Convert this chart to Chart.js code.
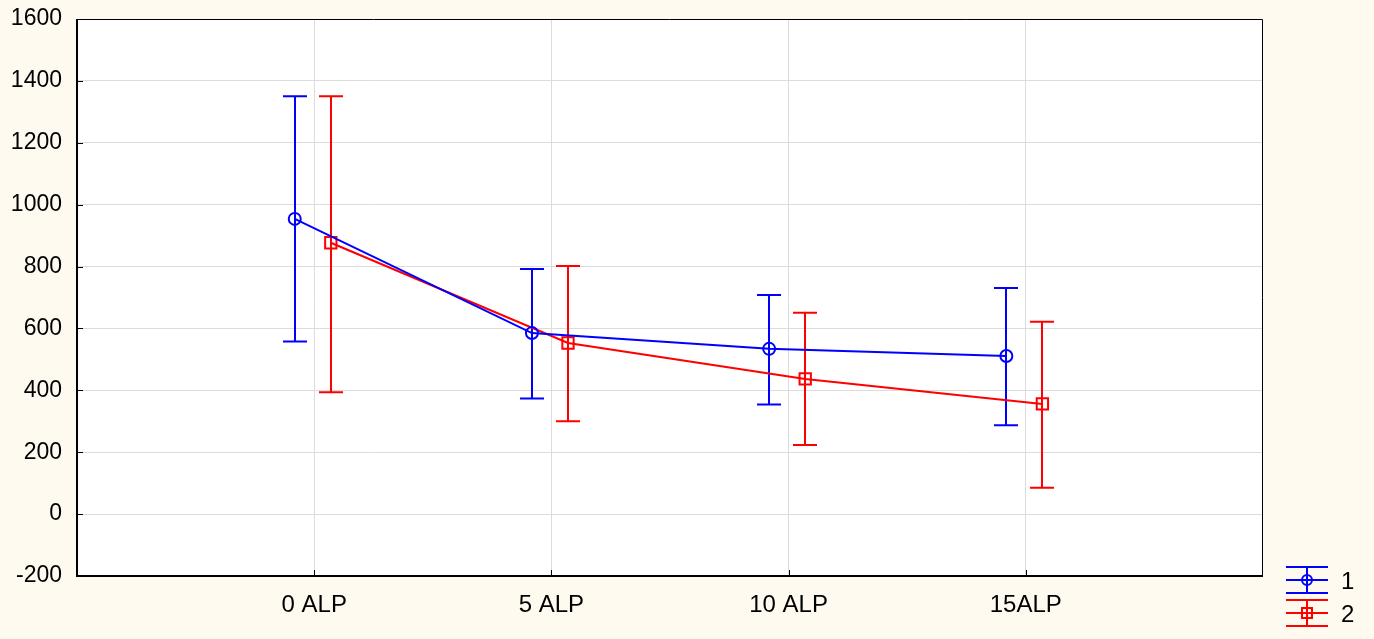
<!DOCTYPE html>
<html>
<head>
<meta charset="utf-8">
<script src="https://cdn.jsdelivr.net/npm/chart.js@4.4.1/dist/chart.umd.min.js"></script>
<style>
    html, body { margin: 0; padding: 0; background: #fffaf0; }
    #wrap { width: 1374px; height: 639px; }
</style>
</head>
<body>
<div id="wrap"><canvas id="alpChart"></canvas></div>
<script>
// Groups along the x axis
const categories = ['0 ALP', '5 ALP', '10 ALP', '15ALP'];
const seriesNames = ['1', '2'];

// Series 1: means with whisker ends
const means1 = [954, 585, 534, 511];
const upper1 = [1350, 792, 708, 731];
const lower1 = [558, 374, 354, 287];

// Series 2: means with whisker ends
const means2 = [877, 553, 437, 356];
const upper2 = [1350, 802, 651, 622];
const lower2 = [394, 300, 223, 85];

const yTicks = [-200, 0, 200, 400, 600, 800, 1000, 1200, 1400, 1600];

const FAMILY = "'Liberation Sans', Arial, sans-serif";
const BLUE = '#0000ff';
const RED = '#ff0000';

// each group sits at x = 1..n, series are nudged left / right of it
function points(values, shift) {
    return values.map((v, i) => ({ x: i + 1 + shift, y: v }));
}

const plotDecor = {
    id: 'plotDecor',
    beforeDraw(chart) {
        const { ctx, chartArea: a } = chart;
        ctx.save();
        ctx.fillStyle = '#fffaf0';
        ctx.fillRect(0, 0, chart.width, chart.height);
        ctx.fillStyle = '#ffffff';
        ctx.fillRect(a.left, a.top, a.right - a.left, a.bottom - a.top);
        ctx.restore();
    },
    beforeDatasetsDraw(chart) {
        const { ctx } = chart;
        const xs = chart.scales.x, ys = chart.scales.y;
        ctx.save();
        ctx.lineWidth = 2;
        chart.data.datasets.forEach(ds => {
            ctx.strokeStyle = ds.borderColor;
            ds.data.forEach((p, i) => {
                const px = Math.round(xs.getPixelForValue(p.x));
                const top = ys.getPixelForValue(ds.upper[i]);
                const bot = ys.getPixelForValue(ds.lower[i]);
                ctx.beginPath();
                ctx.moveTo(px, top);
                ctx.lineTo(px, bot);
                ctx.moveTo(px - 12, top);
                ctx.lineTo(px + 12, top);
                ctx.moveTo(px - 12, bot);
                ctx.lineTo(px + 12, bot);
                ctx.stroke();
            });
        });
        ctx.restore();
    },
    afterDraw(chart) {
        const { ctx, chartArea: a } = chart;
        const xs = chart.scales.x, ys = chart.scales.y;
        ctx.save();
        // frame
        ctx.strokeStyle = '#000';
        ctx.lineWidth = 1;
        ctx.beginPath();
        ctx.moveTo(a.left, a.top + 0.5);
        ctx.lineTo(a.right - 0.5, a.top + 0.5);
        ctx.lineTo(a.right - 0.5, a.bottom);
        ctx.stroke();
        ctx.lineWidth = 2;
        ctx.beginPath();
        ctx.moveTo(a.left, a.top);
        ctx.lineTo(a.left, a.bottom);
        ctx.lineTo(a.right, a.bottom);
        ctx.stroke();
        // inward tick marks
        ctx.lineWidth = 1;
        ctx.beginPath();
        yTicks.forEach(v => {
            const py = Math.round(ys.getPixelForValue(v)) + 0.5;
            ctx.moveTo(a.left, py);
            ctx.lineTo(a.left + 6, py);
        });
        categories.forEach((c, i) => {
            const px = Math.round(xs.getPixelForValue(i + 1)) + 0.5;
            ctx.moveTo(px, a.bottom);
            ctx.lineTo(px, a.bottom - 6);
        });
        ctx.stroke();

        // legend, bottom right
        const lx = 1307;
        chart.data.datasets.forEach((ds, k) => {
            const cy = 580 + k * 33;
            ctx.strokeStyle = ds.borderColor;
            ctx.lineWidth = 2;
            ctx.beginPath();
            [-13, 0, 13].forEach(d => {
                ctx.moveTo(lx - 21, cy + d);
                ctx.lineTo(lx + 21, cy + d);
            });
            ctx.moveTo(lx, cy - 13);
            ctx.lineTo(lx, cy + 13);
            ctx.stroke();
            ctx.beginPath();
            if (ds.pointStyle === 'rect') {
                ctx.rect(lx - 5, cy - 5, 10, 10);
            } else {
                ctx.arc(lx, cy, 5, 0, Math.PI * 2);
            }
            ctx.stroke();
            ctx.fillStyle = '#000';
            ctx.font = '24px ' + FAMILY;
            ctx.textAlign = 'left';
            ctx.textBaseline = 'middle';
            ctx.fillText(ds.label, 1341, cy + 2);
        });
        ctx.restore();
    }
};

const chart = new Chart(document.getElementById('alpChart').getContext('2d'), {
    type: 'scatter',
    data: {
        datasets: [{
            label: seriesNames[0],
            data: points(means1, -0.082),
            upper: upper1,
            lower: lower1,
            showLine: true,
            borderColor: BLUE,
            backgroundColor: 'rgba(0,0,0,0)',
            borderWidth: 2,
            pointStyle: 'circle',
            pointRadius: 6,
            pointBorderWidth: 2
        }, {
            label: seriesNames[1],
            data: points(means2, 0.07),
            upper: upper2,
            lower: lower2,
            showLine: true,
            borderColor: RED,
            backgroundColor: 'rgba(0,0,0,0)',
            borderWidth: 2,
            pointStyle: 'rect',
            pointRadius: 8,
            pointBorderWidth: 2
        }]
    },
    options: {
        responsive: true,
        maintainAspectRatio: false,
        animation: false,
        layout: { padding: { top: 19, right: 111, bottom: 0, left: 0 } },
        plugins: {
            legend: { display: false },
            tooltip: { enabled: false }
        },
        scales: {
            x: {
                type: 'linear',
                min: 0,
                max: categories.length + 1,
                afterBuildTicks(scale) {
                    scale.ticks = categories.map((c, i) => ({ value: i + 1 }));
                },
                afterFit(scale) {
                    scale.height = 63;
                    scale.paddingLeft = 0;
                    scale.paddingRight = 0;
                },
                grid: { color: '#dcdcdc', lineWidth: 1, drawTicks: false },
                border: { display: false },
                ticks: {
                    color: '#000',
                    font: { family: FAMILY, size: 24 },
                    padding: 15,
                    maxRotation: 0,
                    callback: v => categories[v - 1] || ''
                }
            },
            y: {
                min: yTicks[0],
                max: yTicks[yTicks.length - 1],
                afterBuildTicks(scale) {
                    scale.ticks = yTicks.map(v => ({ value: v }));
                },
                afterFit(scale) {
                    scale.width = 77;
                    scale.paddingTop = 0;
                    scale.paddingBottom = 0;
                },
                grid: {
                    color: ctx => (ctx.index === 0 || ctx.index === yTicks.length - 1) ? 'rgba(0,0,0,0)' : '#dcdcdc',
                    lineWidth: 1,
                    drawTicks: false
                },
                border: { display: false },
                ticks: {
                    color: '#000',
                    font: { family: FAMILY, size: 23 },
                    padding: 15,
                    callback: v => String(v)
                }
            }
        }
    },
    plugins: [plotDecor]
});
</script>
</body>
</html>
